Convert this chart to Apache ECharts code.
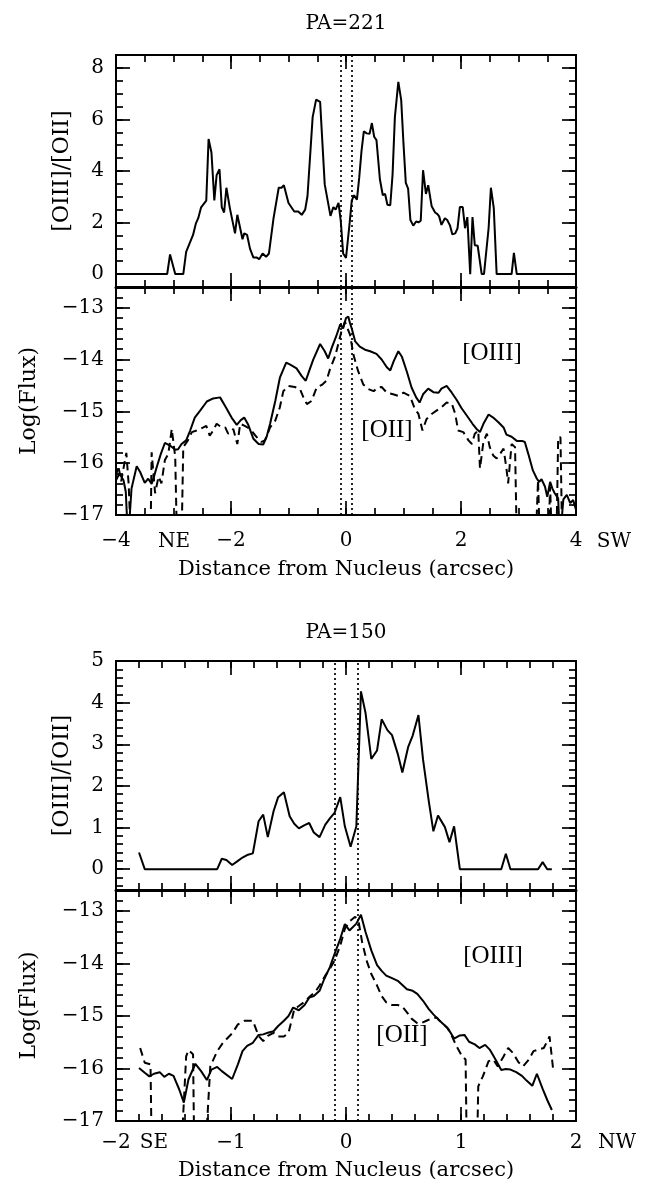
<!DOCTYPE html>
<html><head><meta charset="utf-8">
<script src="https://cdn.jsdelivr.net/npm/echarts@6/dist/echarts.min.js"></script>
<style>html,body{margin:0;padding:0;background:#fff}#c{width:647px;height:1190px}</style>
</head><body><div id="c"></div>
<script>
// ---------- PA=221 : [OIII]/[OII] ratio ----------
const R221_X = [-4.00,-3.11,-3.06,-2.97,-2.83,-2.78,-2.72,-2.66,-2.61,-2.57,-2.52,-2.43,-2.39,-2.34,-2.29,-2.25,-2.20,-2.16,-2.12,-2.08,-2.02,-1.93,-1.89,-1.84,-1.80,-1.77,-1.72,-1.67,-1.61,-1.55,-1.51,-1.45,-1.39,-1.34,-1.26,-1.17,-1.12,-1.08,-1.00,-0.90,-0.83,-0.77,-0.71,-0.67,-0.58,-0.52,-0.45,-0.37,-0.27,-0.22,-0.18,-0.13,-0.09,-0.05,0.00,0.06,0.10,0.14,0.19,0.23,0.27,0.31,0.36,0.41,0.45,0.49,0.53,0.59,0.64,0.68,0.72,0.77,0.81,0.85,0.91,0.96,1.00,1.04,1.08,1.12,1.17,1.22,1.26,1.30,1.34,1.39,1.43,1.49,1.55,1.59,1.62,1.66,1.72,1.76,1.81,1.85,1.90,1.94,1.98,2.03,2.07,2.11,2.16,2.20,2.24,2.29,2.36,2.40,2.48,2.52,2.57,2.62,2.88,2.92,2.97,4.00];
const R221_Y = [0,0,0.76,0,0,0.86,1.19,1.52,1.97,2.17,2.59,2.85,5.24,4.72,2.86,3.84,4.07,2.59,2.39,3.35,2.56,1.58,2.30,1.78,1.35,1.58,1.52,0.99,0.64,0.64,0.58,0.80,0.67,0.80,2.17,3.35,3.35,3.45,2.76,2.43,2.43,2.30,2.50,3.02,6.09,6.77,6.68,3.48,2.26,2.60,2.50,2.76,2.04,0.80,0.63,1.91,2.85,3.06,2.89,3.74,4.78,5.54,5.46,5.44,5.86,5.33,5.20,3.67,3.06,3.11,2.69,2.67,3.87,6.09,7.46,6.75,5.05,3.54,3.32,2.10,1.88,2.04,2.01,2.07,4.03,3.11,3.45,2.63,2.39,2.33,2.24,1.91,2.17,2.10,1.88,1.54,1.58,1.78,2.60,2.60,1.78,2.21,0,2.21,1.12,1.10,0,0,1.78,3.35,2.56,0,0,0.82,0,0];

// ---------- PA=221 : log flux ----------
const O3_221_X = [-4.00,-3.94,-3.87,-3.83,-3.79,-3.73,-3.64,-3.58,-3.50,-3.44,-3.38,-3.34,-3.29,-3.22,-3.15,-3.06,-2.97,-2.92,-2.86,-2.78,-2.71,-2.63,-2.54,-2.42,-2.31,-2.19,-2.09,-1.99,-1.90,-1.83,-1.77,-1.70,-1.61,-1.52,-1.44,-1.38,-1.32,-1.23,-1.15,-1.04,-0.97,-0.86,-0.77,-0.70,-0.64,-0.57,-0.45,-0.37,-0.31,-0.25,-0.17,-0.10,-0.05,0.00,0.04,0.07,0.10,0.16,0.24,0.33,0.42,0.53,0.62,0.71,0.77,0.83,0.91,0.97,1.06,1.14,1.22,1.28,1.34,1.43,1.52,1.61,1.66,1.75,1.84,1.92,2.01,2.10,2.20,2.27,2.33,2.39,2.48,2.56,2.65,2.74,2.79,2.88,2.97,3.06,3.11,3.17,3.25,3.32,3.36,3.40,3.46,3.50,3.55,3.59,3.63,3.69,3.72,3.78,3.84,3.90,3.95,4.00];
const O3_221_Y = [-16.33,-16.20,-16.33,-16.55,-17.5,-16.49,-16.06,-16.17,-16.38,-16.30,-16.40,-16.26,-16.07,-15.82,-15.61,-15.66,-15.74,-15.73,-15.63,-15.56,-15.37,-15.12,-14.99,-14.81,-14.75,-14.73,-14.92,-15.12,-15.26,-15.17,-15.12,-15.26,-15.53,-15.63,-15.64,-15.49,-15.24,-14.80,-14.35,-14.06,-14.10,-14.17,-14.32,-14.41,-14.22,-14.00,-13.70,-13.84,-13.98,-13.78,-13.55,-13.32,-13.40,-13.20,-13.17,-13.30,-13.40,-13.65,-13.75,-13.81,-13.84,-13.89,-14.00,-14.15,-14.21,-14.03,-13.84,-13.94,-14.24,-14.54,-14.73,-14.83,-14.67,-14.56,-14.63,-14.64,-14.56,-14.51,-14.64,-14.77,-14.94,-15.08,-15.24,-15.34,-15.40,-15.24,-15.06,-15.12,-15.21,-15.31,-15.45,-15.49,-15.57,-15.57,-15.59,-15.82,-16.14,-16.30,-16.36,-16.31,-16.45,-16.65,-16.36,-16.49,-16.58,-16.68,-17.5,-16.70,-16.61,-16.77,-16.71,-16.90];
const O2_221_X = [-4.00,-3.96,-3.91,-3.87,-3.82,-3.78,-3.74,-3.40,-3.38,-3.32,-3.26,-3.21,-3.15,-3.09,-3.03,-2.97,-2.94,-2.86,-2.83,-2.75,-2.68,-2.60,-2.48,-2.43,-2.37,-2.31,-2.25,-2.16,-2.10,-2.05,-1.96,-1.89,-1.84,-1.76,-1.67,-1.55,-1.47,-1.41,-1.32,-1.23,-1.15,-1.09,-1.00,-0.89,-0.80,-0.74,-0.68,-0.60,-0.51,-0.42,-0.34,-0.28,-0.19,-0.13,-0.08,-0.02,0.01,0.07,0.13,0.21,0.30,0.39,0.48,0.56,0.62,0.71,0.82,0.91,1.00,1.11,1.20,1.26,1.33,1.40,1.49,1.58,1.66,1.75,1.84,1.90,1.95,2.04,2.13,2.19,2.24,2.30,2.33,2.39,2.45,2.50,2.56,2.62,2.68,2.74,2.79,2.82,2.88,2.94,2.97,3.30,3.34,3.37,3.52,3.55,3.58,3.66,3.69,3.73,3.76,4.00];
const O2_221_Y = [-16.25,-16.05,-16.35,-16.10,-15.80,-16.40,-17.5,-17.5,-15.79,-16.58,-16.26,-16.39,-15.94,-15.82,-15.34,-15.88,-17.5,-17.5,-15.69,-15.56,-15.40,-15.37,-15.31,-15.28,-15.47,-15.37,-15.24,-15.31,-15.31,-15.43,-15.34,-15.63,-15.24,-15.28,-15.34,-15.50,-15.59,-15.56,-15.31,-15.18,-14.92,-14.61,-14.51,-14.53,-14.57,-14.73,-14.86,-14.80,-14.54,-14.49,-14.41,-14.19,-13.94,-13.68,-13.46,-13.27,-13.24,-13.52,-13.91,-14.22,-14.48,-14.57,-14.61,-14.54,-14.53,-14.64,-14.67,-14.70,-14.64,-14.70,-14.96,-15.05,-15.37,-15.15,-15.05,-14.98,-14.92,-14.83,-14.85,-15.05,-15.37,-15.40,-15.56,-15.63,-15.43,-15.37,-16.10,-15.59,-15.43,-15.69,-15.85,-15.91,-15.82,-15.72,-16.10,-16.39,-15.63,-15.69,-17.5,-17.5,-16.33,-17.5,-17.5,-16.45,-17.5,-17.5,-15.50,-15.50,-17.5,-17.5];

// ---------- PA=150 : [OIII]/[OII] ratio ----------
const R150_X = [-1.80,-1.75,-1.12,-1.08,-1.04,-0.99,-0.94,-0.90,-0.86,-0.81,-0.76,-0.72,-0.68,-0.63,-0.59,-0.54,-0.49,-0.45,-0.41,-0.36,-0.32,-0.28,-0.23,-0.18,-0.14,-0.10,-0.05,-0.01,0.04,0.09,0.13,0.17,0.22,0.27,0.31,0.36,0.40,0.45,0.49,0.54,0.58,0.63,0.67,0.72,0.76,0.80,0.86,0.90,0.94,0.99,1.35,1.39,1.43,1.67,1.71,1.75,1.79];
const R150_Y = [0.40,0,0,0.25,0.22,0.10,0.20,0.28,0.34,0.38,1.15,1.31,0.77,1.39,1.73,1.85,1.27,1.09,0.98,1.06,1.11,0.88,0.77,1.07,1.22,1.35,1.73,1.03,0.54,1.03,4.27,3.75,2.65,2.85,3.60,3.34,3.22,2.77,2.32,2.93,3.21,3.70,2.63,1.63,0.91,1.29,1.01,0.65,1.03,0,0,0.37,0,0,0.17,0,0];

// ---------- PA=150 : log flux ----------
const O3_150_X = [-1.80,-1.75,-1.71,-1.67,-1.62,-1.58,-1.54,-1.50,-1.45,-1.41,-1.37,-1.31,-1.26,-1.21,-1.17,-1.12,-1.08,-0.99,-0.94,-0.90,-0.86,-0.81,-0.76,-0.72,-0.68,-0.63,-0.59,-0.54,-0.50,-0.46,-0.41,-0.36,-0.32,-0.28,-0.23,-0.19,-0.14,-0.10,-0.05,-0.01,0.03,0.09,0.13,0.17,0.22,0.27,0.31,0.35,0.40,0.45,0.49,0.53,0.58,0.62,0.67,0.72,0.76,0.80,0.85,0.89,0.94,0.99,1.03,1.07,1.12,1.16,1.21,1.25,1.30,1.35,1.39,1.43,1.48,1.53,1.57,1.62,1.66,1.71,1.75,1.79];
const O3_150_Y = [-15.99,-16.08,-16.15,-16.10,-16.07,-16.16,-16.10,-16.14,-16.40,-16.65,-16.21,-15.91,-16.05,-16.22,-16.02,-15.97,-16.05,-16.20,-15.92,-15.67,-15.57,-15.51,-15.36,-15.35,-15.32,-15.29,-15.19,-15.09,-15.00,-14.84,-14.89,-14.79,-14.65,-14.62,-14.52,-14.30,-14.07,-13.82,-13.53,-13.25,-13.37,-13.24,-13.07,-13.40,-13.75,-14.03,-14.14,-14.23,-14.28,-14.33,-14.41,-14.49,-14.52,-14.58,-14.71,-14.87,-14.97,-15.06,-15.16,-15.25,-15.43,-15.37,-15.36,-15.49,-15.54,-15.61,-15.55,-15.64,-15.83,-16.03,-16.01,-16.02,-16.07,-16.14,-16.23,-16.33,-16.10,-16.39,-16.60,-16.79];
const O2_150_X = [-1.79,-1.75,-1.70,-1.69,-1.43,-1.39,-1.37,-1.33,-1.32,-1.22,-1.18,-1.12,-1.07,-0.99,-0.94,-0.88,-0.81,-0.76,-0.72,-0.68,-0.63,-0.59,-0.54,-0.50,-0.47,-0.45,-0.41,-0.36,-0.31,-0.27,-0.23,-0.18,-0.14,-0.10,-0.05,-0.01,0.03,0.08,0.11,0.14,0.18,0.22,0.27,0.31,0.35,0.40,0.45,0.49,0.53,0.57,0.62,0.66,0.70,0.74,0.79,0.83,0.88,0.92,0.96,1.01,1.04,1.05,1.14,1.15,1.19,1.24,1.28,1.32,1.37,1.41,1.45,1.50,1.54,1.59,1.63,1.67,1.72,1.77,1.80];
const O2_150_Y = [-15.61,-15.89,-15.92,-17.5,-17.5,-15.77,-15.65,-15.73,-17.5,-17.5,-15.96,-15.67,-15.51,-15.33,-15.16,-15.09,-15.09,-15.38,-15.48,-15.38,-15.32,-15.39,-15.39,-15.32,-15.06,-14.87,-14.81,-14.73,-14.62,-14.55,-14.42,-14.23,-14.10,-13.95,-13.66,-13.34,-13.20,-13.11,-13.21,-13.59,-13.95,-14.20,-14.42,-14.62,-14.74,-14.79,-14.79,-14.82,-14.93,-15.05,-15.14,-15.13,-15.09,-15.05,-15.03,-15.13,-15.22,-15.38,-15.57,-15.77,-15.83,-17.5,-17.5,-16.34,-16.15,-15.86,-15.83,-15.96,-15.77,-15.61,-15.70,-15.88,-15.96,-15.83,-15.67,-15.64,-15.61,-15.39,-15.99];

// ---------- ticks and labels ----------
const X221_TICKS = [-4,-2,0,2,4];
const X221_LABELS = ['\u22124','\u22122','0','2','4'];
const X150_TICKS = [-2,-1,0,1,2];
const X150_LABELS = ['\u22122','\u22121','0','1','2'];
const YR221_TICKS = [0,2,4,6,8];
const YR221_LABELS = ['0','2','4','6','8'];
const YR150_TICKS = [0,1,2,3,4,5];
const YR150_LABELS = ['0','1','2','3','4','5'];
const YF_TICKS = [-17,-16,-15,-14,-13];
const YF_LABELS = ['\u221217','\u221216','\u221215','\u221214','\u221213'];
const NUCLEUS_LINES = [-0.1, 0.1];

function zip(xs, ys){ return xs.map((x,i)=>[x, ys[i]]); }
function steps(a, b, s){ const out=[]; const n=Math.round((b-a)/s); for(let i=0;i<=n;i++) out.push(+(a+i*s).toFixed(4)); return out; }
function fmt(ticks, labels){ return v => { const i = ticks.findIndex(t=>Math.abs(t-v)<1e-6); return i>=0 ? labels[i] : ''; }; }

const TICKLINE = {color:'#000', width:1.7};
const LABELFONT = {fontFamily:'DejaVu Serif', fontSize:20, color:'#000'};
const NAMEFONT = {fontFamily:'DejaVu Serif', fontSize:21, color:'#000'};

const grids = [
  {left:116, top:55, width:460, height:232},
  {left:116, top:287, width:460, height:228},
  {left:116, top:661, width:460, height:229},
  {left:116, top:890, width:460, height:231}
].map(g => Object.assign(g, {show:true, borderColor:'#000', borderWidth:2, backgroundColor:'transparent'}));

const xAxes = [], yAxes = [];
function addX(gi, min, max, majors, minors, labels, name, lmargin, ngap){
  const base = {type:'value', gridIndex:gi, min, max, splitLine:{show:false}, axisLine:{show:false, onZero:false}};
  const lab = labels ? Object.assign({show:true, customValues:majors, formatter:fmt(majors, labels), margin:lmargin}, LABELFONT) : {show:false};
  const main = Object.assign({}, base, {position:'bottom', axisTick:{show:true, inside:true, length:14, customValues:majors, lineStyle:TICKLINE}, axisLabel:lab});
  if (name) Object.assign(main, {name, nameLocation:'middle', nameGap:ngap, nameTextStyle:NAMEFONT});
  const idx = xAxes.length;
  xAxes.push(main);
  xAxes.push(Object.assign({}, base, {position:'bottom', axisTick:{show:true, inside:true, length:7, customValues:minors, lineStyle:TICKLINE}, axisLabel:{show:false}}));
  xAxes.push(Object.assign({}, base, {position:'top', axisTick:{show:true, inside:true, length:14, customValues:majors, lineStyle:TICKLINE}, axisLabel:{show:false}}));
  xAxes.push(Object.assign({}, base, {position:'top', axisTick:{show:true, inside:true, length:7, customValues:minors, lineStyle:TICKLINE}, axisLabel:{show:false}}));
  return idx;
}
function addY(gi, min, max, majors, minors, labels, name, gap){
  const base = {type:'value', gridIndex:gi, min, max, splitLine:{show:false}, axisLine:{show:false, onZero:false}};
  const main = Object.assign({}, base, {position:'left', axisTick:{show:true, inside:true, length:14, customValues:majors, lineStyle:TICKLINE},
    axisLabel:Object.assign({show:true, customValues:majors, formatter:fmt(majors, labels), margin:12}, LABELFONT),
    name, nameLocation:'middle', nameRotate:90, nameGap:gap, nameTextStyle:Object.assign({}, NAMEFONT, {fontSize:22})});
  const idx = yAxes.length;
  yAxes.push(main);
  yAxes.push(Object.assign({}, base, {position:'left', axisTick:{show:true, inside:true, length:7, customValues:minors, lineStyle:TICKLINE}, axisLabel:{show:false}}));
  yAxes.push(Object.assign({}, base, {position:'right', axisTick:{show:true, inside:true, length:14, customValues:majors, lineStyle:TICKLINE}, axisLabel:{show:false}}));
  yAxes.push(Object.assign({}, base, {position:'right', axisTick:{show:true, inside:true, length:7, customValues:minors, lineStyle:TICKLINE}, axisLabel:{show:false}}));
  return idx;
}

const XNAME = 'Distance from Nucleus (arcsec)';
const x0 = addX(0, -4, 4, X221_TICKS, steps(-4,4,0.5), null, null);
const x1 = addX(1, -4, 4, X221_TICKS, steps(-4,4,0.5), X221_LABELS, XNAME, 16, 44);
const x2 = addX(2, -2, 2, X150_TICKS, steps(-2,2,0.2), null, null);
const x3 = addX(3, -2, 2, X150_TICKS, steps(-2,2,0.2), X150_LABELS, XNAME, 12, 39);
const y0 = addY(0, -0.5, 8.5, YR221_TICKS, steps(0,8,0.5), YR221_LABELS, '[OIII]/[OII]', 43);
const y1 = addY(1, -17, -12.6, YF_TICKS, steps(-17,-12.6,0.2), YF_LABELS, 'Log(Flux)', 76);
const y2 = addY(2, -0.5, 5, YR150_TICKS, steps(-0.4,5,0.2), YR150_LABELS, '[OIII]/[OII]', 43);
const y3 = addY(3, -17, -12.6, YF_TICKS, steps(-17,-12.6,0.2), YF_LABELS, 'Log(Flux)', 76);
// thicker shared boundary between stacked panels
xAxes[x0].axisLine = {show:true, onZero:false, lineStyle:{color:'#000', width:3}};
xAxes[x2].axisLine = {show:true, onZero:false, lineStyle:{color:'#000', width:3}};

const nucleus = {silent:true, symbol:'none', label:{show:false}, animation:false,
  lineStyle:{color:'#000', width:1.7, type:[2,3]}, data: NUCLEUS_LINES.map(v=>({xAxis:v}))};
function line(xi, yi, data, dashed, withMark){
  const s = {type:'line', xAxisIndex:xi, yAxisIndex:yi, data, showSymbol:false, symbol:'none', clip:true, animation:false,
    lineStyle:{color:'#000', width:2, type: dashed ? [8,5] : 'solid'}};
  if (withMark) s.markLine = nucleus;
  return s;
}

const series = [
  line(x0, y0, zip(R221_X, R221_Y), false, true),
  line(x1, y1, zip(O2_221_X, O2_221_Y), true, false),
  line(x1, y1, zip(O3_221_X, O3_221_Y), false, true),
  line(x2, y2, zip(R150_X, R150_Y), false, true),
  line(x3, y3, zip(O2_150_X, O2_150_Y), true, false),
  line(x3, y3, zip(O3_150_X, O3_150_Y), false, true)
];

function txt(text, x, y, font){ return {type:'text', x, y, silent:true, style:{text, font, fill:'#000', align:'center', verticalAlign:'middle'}}; }
const AX = '20px "DejaVu Serif"';
const LBL = '25px "Liberation Serif"';
const graphic = [
  txt('PA=221', 346, 24, '20px "DejaVu Serif"'),
  txt('PA=150', 346, 633, '20px "DejaVu Serif"'),
  txt('[OIII]', 492, 353, LBL),
  txt('[OII]', 387, 430, LBL),
  txt('[OIII]', 493, 956, LBL),
  txt('[OII]', 402, 1035, LBL),
  txt('NE', 174, 542, AX),
  txt('SW', 614, 542, AX),
  txt('SE', 154, 1143, AX),
  txt('NW', 617, 1143, AX)
];

const chart = echarts.init(document.getElementById('c'), null, {renderer:'canvas'});
chart.setOption({animation:false, backgroundColor:'#fff', grid:grids, xAxis:xAxes, yAxis:yAxes, series, graphic});
</script></body></html>
